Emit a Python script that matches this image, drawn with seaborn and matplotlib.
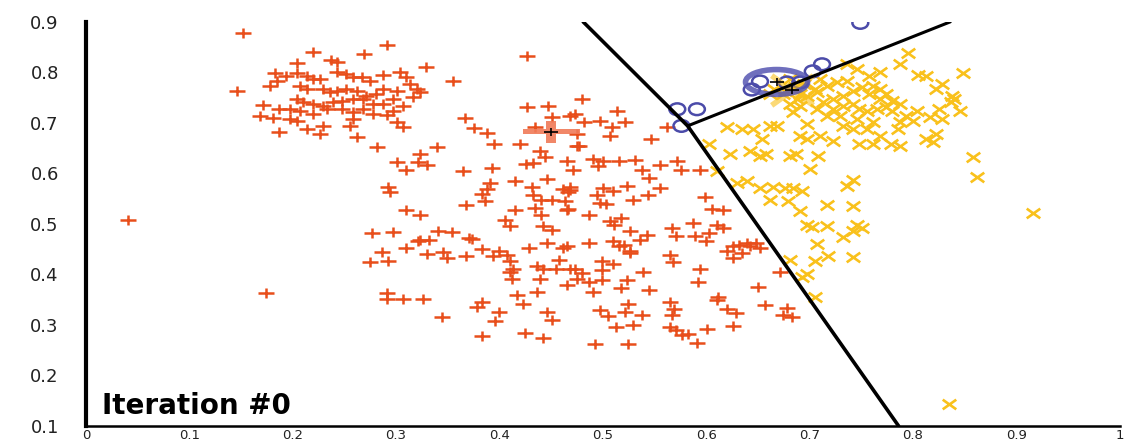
import matplotlib
matplotlib.use('Agg')
import matplotlib.pyplot as plt
from matplotlib.path import Path
from matplotlib.transforms import Affine2D
import seaborn as sns

# Cluster members (k-means, iteration #0)
red_x = [0.152, 0.220, 0.291, 0.269, 0.237, 0.243, 0.204, 0.329, 0.355, 0.146,
         0.183, 0.194, 0.204, 0.185, 0.178, 0.214, 0.220, 0.226, 0.243, 0.252,
         0.258, 0.267, 0.275, 0.287, 0.304, 0.310, 0.313, 0.320, 0.323, 0.316,
         0.301, 0.287, 0.281, 0.271, 0.262, 0.252, 0.243, 0.236, 0.229, 0.214,
         0.207, 0.204, 0.210, 0.220, 0.229, 0.239, 0.248, 0.258, 0.268, 0.278,
         0.287, 0.297, 0.307, 0.297, 0.291, 0.278, 0.268, 0.258, 0.258, 0.248,
         0.233, 0.220, 0.207, 0.197, 0.187, 0.171, 0.168, 0.181, 0.197, 0.204,
         0.214, 0.229, 0.226, 0.187, 0.255, 0.262, 0.301, 0.307, 0.282, 0.323,
         0.340,
         0.427, 0.427, 0.447, 0.451, 0.468, 0.367, 0.375, 0.388, 0.395, 0.434,
         0.301, 0.321, 0.330, 0.310, 0.365, 0.393, 0.439, 0.444, 0.432, 0.426,
         0.465, 0.475, 0.471, 0.292, 0.294, 0.391, 0.388, 0.415, 0.431, 0.446,
         0.461, 0.468, 0.383, 0.386, 0.368, 0.432, 0.440, 0.451, 0.463, 0.465,
         0.415, 0.434, 0.440, 0.405, 0.410, 0.442, 0.451, 0.310, 0.323, 0.277,
         0.297, 0.323, 0.332, 0.341, 0.354, 0.371, 0.321, 0.373, 0.286, 0.310,
         0.275, 0.292, 0.330, 0.345, 0.349, 0.368, 0.383, 0.394, 0.400, 0.407,
         0.410, 0.413, 0.412, 0.410, 0.429, 0.446, 0.461, 0.458, 0.436, 0.442,
         0.455, 0.468, 0.439, 0.465, 0.291, 0.291, 0.307, 0.326, 0.383, 0.378,
         0.344, 0.400, 0.396, 0.417, 0.436, 0.423, 0.446, 0.451, 0.383, 0.425,
         0.442, 0.041, 0.174,
         0.420, 0.477, 0.475, 0.507, 0.547, 0.514, 0.521, 0.509, 0.497, 0.482,
         0.473, 0.562, 0.480,
         0.490, 0.500, 0.516, 0.531, 0.495, 0.538, 0.555, 0.572, 0.576, 0.594,
         0.545, 0.468, 0.466, 0.500, 0.510, 0.523, 0.555, 0.544, 0.494, 0.529,
         0.497, 0.503, 0.466, 0.487, 0.599, 0.606, 0.616, 0.507, 0.518, 0.511,
         0.526, 0.543, 0.536, 0.567, 0.571, 0.587, 0.589, 0.610, 0.616, 0.603,
         0.600, 0.465, 0.487, 0.510, 0.516, 0.526, 0.565, 0.626, 0.632, 0.639,
         0.642, 0.648, 0.652, 0.620, 0.635,
         0.520, 0.526, 0.568, 0.626, 0.499, 0.510, 0.473, 0.480, 0.499, 0.539,
         0.594, 0.475, 0.487, 0.499, 0.523, 0.518, 0.545, 0.592, 0.490, 0.650,
         0.671, 0.611, 0.610, 0.524, 0.565, 0.497, 0.521, 0.538, 0.569, 0.567,
         0.620, 0.629, 0.657, 0.678, 0.674, 0.683, 0.505, 0.513, 0.529, 0.565,
         0.571, 0.601, 0.626, 0.577, 0.582, 0.591, 0.492, 0.524]
red_y = [0.877, 0.841, 0.855, 0.837, 0.824, 0.820, 0.818, 0.810, 0.782, 0.763,
         0.798, 0.792, 0.798, 0.782, 0.773, 0.792, 0.786, 0.786, 0.800, 0.796,
         0.790, 0.790, 0.782, 0.794, 0.800, 0.790, 0.776, 0.767, 0.761, 0.751,
         0.763, 0.767, 0.757, 0.753, 0.763, 0.767, 0.763, 0.761, 0.767, 0.767,
         0.773, 0.747, 0.741, 0.737, 0.733, 0.741, 0.743, 0.747, 0.747, 0.737,
         0.737, 0.747, 0.733, 0.724, 0.716, 0.718, 0.727, 0.722, 0.708, 0.727,
         0.727, 0.718, 0.724, 0.727, 0.727, 0.735, 0.714, 0.710, 0.708, 0.704,
         0.688, 0.694, 0.678, 0.682, 0.694, 0.673, 0.702, 0.692, 0.653, 0.639,
         0.653,
         0.833, 0.731, 0.733, 0.712, 0.714, 0.710, 0.690, 0.680, 0.659, 0.692,
         0.623, 0.623, 0.616, 0.606, 0.604, 0.610, 0.645, 0.633, 0.620, 0.618,
         0.625, 0.655, 0.606, 0.574, 0.564, 0.580, 0.570, 0.584, 0.574, 0.588,
         0.570, 0.567, 0.559, 0.545, 0.537, 0.557, 0.547, 0.547, 0.545, 0.527,
         0.527, 0.531, 0.518, 0.508, 0.496, 0.496, 0.488, 0.527, 0.518, 0.482,
         0.484, 0.469, 0.469, 0.486, 0.484, 0.473, 0.467, 0.471, 0.445, 0.453,
         0.425, 0.427, 0.441, 0.445, 0.433, 0.437, 0.451, 0.437, 0.447, 0.439,
         0.427, 0.410, 0.390, 0.404, 0.453, 0.463, 0.453, 0.429, 0.416, 0.410,
         0.410, 0.410, 0.390, 0.380, 0.363, 0.351, 0.351, 0.351, 0.345, 0.335,
         0.316, 0.326, 0.308, 0.359, 0.365, 0.341, 0.326, 0.310, 0.278, 0.284,
         0.274, 0.508, 0.363,
         0.659, 0.655, 0.678, 0.675, 0.669, 0.723, 0.702, 0.692, 0.704, 0.702,
         0.718, 0.692, 0.747,
         0.629, 0.625, 0.625, 0.627, 0.614, 0.606, 0.616, 0.625, 0.606, 0.606,
         0.590, 0.574, 0.564, 0.571, 0.565, 0.576, 0.571, 0.557, 0.557, 0.547,
         0.541, 0.539, 0.529, 0.518, 0.553, 0.529, 0.527, 0.506, 0.512, 0.498,
         0.486, 0.478, 0.469, 0.492, 0.476, 0.502, 0.476, 0.498, 0.492, 0.482,
         0.467, 0.457, 0.463, 0.467, 0.457, 0.447, 0.439, 0.457, 0.459, 0.463,
         0.457, 0.463, 0.453, 0.447, 0.443,
         0.459, 0.443, 0.424, 0.433, 0.427, 0.420, 0.410, 0.402, 0.408, 0.404,
         0.410, 0.390, 0.384, 0.388, 0.388, 0.373, 0.369, 0.384, 0.365, 0.375,
         0.404, 0.355, 0.349, 0.341, 0.345, 0.329, 0.326, 0.320, 0.331, 0.320,
         0.331, 0.323, 0.339, 0.333, 0.320, 0.316, 0.318, 0.296, 0.300, 0.296,
         0.290, 0.292, 0.298, 0.280, 0.282, 0.265, 0.263, 0.263]

yellow_x = [0.795, 0.787, 0.736, 0.848, 0.805, 0.813, 0.828, 0.822, 0.838, 0.837,
            0.845, 0.825, 0.816, 0.804, 0.800, 0.787, 0.785, 0.822, 0.819, 0.787,
            0.779, 0.761, 0.748, 0.768, 0.755, 0.742, 0.761, 0.746, 0.732, 0.723,
            0.710, 0.697, 0.691, 0.668, 0.645, 0.620, 0.603, 0.623, 0.642, 0.652,
            0.658, 0.681, 0.687, 0.708, 0.729, 0.717, 0.707, 0.684, 0.681, 0.691,
            0.697, 0.723, 0.732, 0.742, 0.748, 0.755, 0.765, 0.774, 0.780, 0.793,
            0.768, 0.757, 0.768, 0.761, 0.751, 0.742, 0.732, 0.723, 0.713, 0.726,
            0.736, 0.717, 0.707, 0.697, 0.688, 0.674, 0.710, 0.757, 0.768, 0.746,
            0.774, 0.780, 0.787, 0.858, 0.862, 0.700, 0.630, 0.639, 0.652, 0.665,
            0.676, 0.684, 0.693, 0.736, 0.742, 0.662, 0.679, 0.691, 0.717, 0.742,
            0.697, 0.702, 0.717, 0.746, 0.751, 0.732, 0.742, 0.707, 0.718, 0.742,
            0.705, 0.681, 0.697, 0.610, 0.635, 0.654, 0.662, 0.916, 0.835, 0.705,
            0.693, 0.666, 0.676, 0.686, 0.695, 0.681, 0.705, 0.691, 0.662, 0.828,
            0.813, 0.840]
yellow_y = [0.839, 0.816, 0.816, 0.798, 0.794, 0.792, 0.776, 0.767, 0.753, 0.741,
            0.724, 0.727, 0.712, 0.724, 0.704, 0.702, 0.688, 0.678, 0.663, 0.655,
            0.659, 0.659, 0.659, 0.675, 0.688, 0.688, 0.702, 0.708, 0.694, 0.665,
            0.675, 0.669, 0.675, 0.694, 0.688, 0.692, 0.659, 0.639, 0.645, 0.635,
            0.639, 0.635, 0.639, 0.635, 0.714, 0.714, 0.727, 0.722, 0.737, 0.733,
            0.698, 0.727, 0.733, 0.737, 0.727, 0.724, 0.727, 0.731, 0.724, 0.714,
            0.747, 0.757, 0.767, 0.773, 0.771, 0.763, 0.753, 0.747, 0.741, 0.780,
            0.782, 0.773, 0.761, 0.753, 0.747, 0.757, 0.786, 0.792, 0.800, 0.806,
            0.757, 0.743, 0.737, 0.633, 0.592, 0.608, 0.580, 0.584, 0.571, 0.574,
            0.571, 0.571, 0.565, 0.576, 0.586, 0.547, 0.545, 0.525, 0.537, 0.535,
            0.498, 0.494, 0.496, 0.498, 0.492, 0.474, 0.486, 0.461, 0.437, 0.435,
            0.427, 0.429, 0.400, 0.604, 0.688, 0.669, 0.694, 0.522, 0.143, 0.355,
            0.394, 0.767, 0.763, 0.771, 0.776, 0.786, 0.767, 0.757, 0.757, 0.708,
            0.669, 0.747]

blue_x = [0.652, 0.644, 0.678, 0.691, 0.703, 0.712, 0.572, 0.591, 0.576, 0.749]
blue_y = [0.782, 0.766, 0.780, 0.780, 0.802, 0.816, 0.727, 0.727, 0.694, 0.898]

# centroids: red, blue, yellow
centroid_x = [0.450, 0.668, 0.683]
centroid_y = [0.682, 0.781, 0.765]

# cluster boundaries
edge1_x = [0.481, 0.582, 0.786]
edge1_y = [0.900, 0.694, 0.100]
edge2_x = [0.582, 0.836]
edge2_y = [0.694, 0.900]

x_ticks = [0, 0.1, 0.2, 0.3, 0.4, 0.5, 0.6, 0.7, 0.8, 0.9, 1.0]
x_tick_labels = ['0', '0.1', '0.2', '0.3', '0.4', '0.5', '0.6', '0.7', '0.8', '0.9', '1']
y_ticks = [0.1, 0.2, 0.3, 0.4, 0.5, 0.6, 0.7, 0.8, 0.9]
y_tick_labels = ['0.1', '0.2', '0.3', '0.4', '0.5', '0.6', '0.7', '0.8', '0.9']

RED = '#e84e1b'
YELLOW = '#f9c11c'
BLUE = '#4b4ba9'

# markers are a bit wider than tall, like the original
MV, LT = Path.MOVETO, Path.LINETO
PLUS = Path([(-1.5, 0), (1.5, 0), (0, -1), (0, 1)], [MV, LT, MV, LT])
CROSS = Path([(-1.4, -1), (1.4, 1), (-1.4, 1), (1.4, -1)], [MV, LT, MV, LT])
RING = Path.unit_circle().transformed(Affine2D().scale(1.35, 1))
BIG_RING = Path.unit_circle().transformed(Affine2D().scale(2.5, 1))
w, h, tv, th = 28.5, 11, 5, 2.5
BIG_PLUS = Path([(-w, -th), (-tv, -th), (-tv, -h), (tv, -h), (tv, -th), (w, -th),
                 (w, th), (tv, th), (tv, h), (-tv, h), (-tv, th), (-w, th), (-w, -th)],
                closed=True)

sns.set_style('white')
plt.rcParams['font.family'] = ['DejaVu Sans']

fig = plt.figure(figsize=(11.3, 4.46), dpi=100)
ax = fig.add_axes([0.076, 0.045, 0.915, 0.906])

sns.scatterplot(x=red_x, y=red_y, marker=PLUS, s=130, color=RED, edgecolor=RED,
                linewidth=1.8, ax=ax, zorder=3)
sns.scatterplot(x=yellow_x, y=yellow_y, marker=CROSS, s=95, color=YELLOW, edgecolor=YELLOW,
                linewidth=1.9, ax=ax, zorder=3)
sns.scatterplot(x=blue_x, y=blue_y, marker=RING, s=130, color=BLUE, edgecolor=BLUE,
                facecolor='none', linewidth=1.8, ax=ax, zorder=4)

# centroids
sns.scatterplot(x=centroid_x[:1], y=centroid_y[:1], marker=BIG_PLUS, s=1700, color='#f07a58',
                edgecolor='none', alpha=0.9, ax=ax, zorder=5)
sns.scatterplot(x=centroid_x[2:], y=centroid_y[2:], marker=CROSS, s=900, color=YELLOW,
                edgecolor=YELLOW, linewidth=4, alpha=0.6, ax=ax, zorder=4)
sns.scatterplot(x=centroid_x[1:2], y=centroid_y[1:2], marker=BIG_RING, s=2000, color='#5656b2',
                edgecolor='#5656b2', facecolor='none', linewidth=4, alpha=0.85, ax=ax, zorder=5)
sns.scatterplot(x=centroid_x, y=centroid_y, marker=PLUS, s=90, color='black', edgecolor='black',
                linewidth=1.2, ax=ax, zorder=6)

sns.lineplot(x=edge1_x, y=edge1_y, sort=False, estimator=None, color='black', linewidth=2.6,
             ax=ax, zorder=7)
sns.lineplot(x=edge2_x, y=edge2_y, sort=False, estimator=None, color='black', linewidth=2.2,
             ax=ax, zorder=7)

ax.set_xlim(0, 1)
ax.set_ylim(0.1, 0.9)
ax.set_xticks(x_ticks)
ax.set_xticklabels(x_tick_labels)
ax.set_yticks(y_ticks)
ax.set_yticklabels(y_tick_labels)
ax.tick_params(axis='y', direction='inout', length=15, width=1.6, color='#999999',
               labelsize=13, labelcolor='#222222', pad=12)
ax.tick_params(axis='x', direction='inout', length=4, width=2.2, color='#999999',
               labelsize=9.5, labelcolor='#222222', pad=0.5)

for side in ['top', 'right']:
    ax.spines[side].set_visible(False)
ax.spines['left'].set_linewidth(3)
ax.spines['left'].set_color('black')
ax.spines['bottom'].set_linewidth(1.8)
ax.spines['bottom'].set_color('black')
ax.spines['left'].set_zorder(8)

ax.text(0.016, 0.124, 'Iteration #0', fontsize=20, fontweight='bold', color='black', zorder=9)

fig.savefig('out.png', dpi=100)
